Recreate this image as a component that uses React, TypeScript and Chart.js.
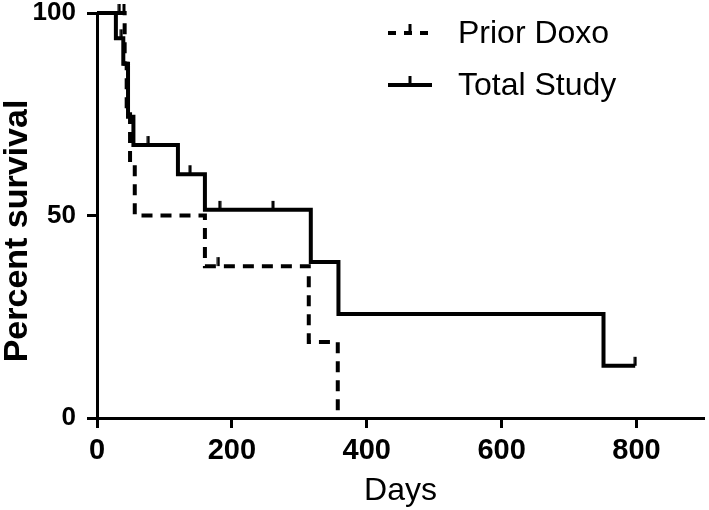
import React, { useEffect, useRef } from 'react';
import { Chart, registerables } from 'chart.js';

Chart.register(...registerables);

// Kaplan-Meier step data (day of event, survival after event)
const priorDays = [0, 41, 44, 49, 56, 160, 314, 357];
const priorSurvival = [100, 87.5, 75, 62.5, 50, 37.5, 18.75, 0];
const priorCensorDays = [33, 40, 180];
const priorCensorSurvival = [100, 100, 37.5];

const totalDays = [0, 28, 39, 46, 54, 120, 160, 317, 358, 751, 798];
const totalSurvival = [100, 93.75, 87.5, 74.4, 67.4, 60.2, 51.4, 38.5, 25.7, 12.9, 12.9];
const totalCensorDays = [36, 76, 138, 182, 261, 798];
const totalCensorSurvival = [93.75, 67.4, 60.2, 51.4, 51.4, 12.9];

const xTicks = [0, 200, 400, 600, 800];
const yTicks = [0, 50, 100];
const seriesNames = ['Prior Doxo', 'Total Study'];
const xTitle = 'Days';
const yTitle = 'Percent survival';

const FONT = "'Liberation Sans', Arial, Helvetica, sans-serif";
const DASH = [11, 8];

function makeTick(): HTMLCanvasElement {
  const c = document.createElement('canvas');
  c.width = 4;
  c.height = 20;
  const g = c.getContext('2d')!;
  g.fillStyle = '#000';
  g.fillRect(0.5, 1, 3, 9);
  return c;
}

const pts = (xs: number[], ys: number[]) => xs.map((x, i) => ({ x, y: ys[i] }));

export default function App() {
  const ref = useRef<HTMLCanvasElement | null>(null);

  useEffect(() => {
    if (!ref.current) return;
    const tick = makeTick();

    const overlay = {
      id: 'overlay',
      afterDraw(chart: any) {
        const ctx = chart.ctx;
        ctx.save();
        // y axis title
        ctx.fillStyle = '#000';
        ctx.font = `bold 34px ${FONT}`;
        ctx.textAlign = 'center';
        ctx.textBaseline = 'middle';
        ctx.translate(18, 231);
        ctx.rotate(-Math.PI / 2);
        ctx.fillText(yTitle, 0, 0);
        ctx.restore();

        // legend
        ctx.save();
        ctx.strokeStyle = '#000';
        ctx.lineWidth = 4;
        const lx0 = 388;
        const lx1 = 432;
        const rows = [33, 85];
        rows.forEach((y, i) => {
          ctx.setLineDash(i === 0 ? [8, 8] : []);
          ctx.beginPath();
          ctx.moveTo(lx0, y);
          ctx.lineTo(lx1, y);
          ctx.stroke();
          ctx.setLineDash([]);
          ctx.drawImage(tick, (lx0 + lx1) / 2 - 2, y - 10);
          ctx.fillStyle = '#000';
          ctx.font = `32px ${FONT}`;
          ctx.textAlign = 'left';
          ctx.textBaseline = 'middle';
          ctx.fillText(seriesNames[i], 458, y + 1);
        });
        ctx.restore();
      },
    };

    const chart = new Chart(ref.current, {
      type: 'scatter',
      data: {
        datasets: [
          {
            label: seriesNames[1],
            data: pts(totalDays, totalSurvival),
            showLine: true,
            stepped: 'before',
            borderColor: '#000',
            backgroundColor: '#000',
            borderWidth: 4,
            pointRadius: 0,
            fill: false,
            clip: false,
          },
          {
            label: seriesNames[0],
            data: pts(priorDays, priorSurvival),
            showLine: true,
            stepped: 'before',
            borderColor: '#000',
            backgroundColor: '#000',
            borderWidth: 4,
            borderDash: DASH,
            pointRadius: 0,
            fill: false,
            clip: false,
          },
          {
            label: seriesNames[1] + ' censored',
            data: pts(totalCensorDays, totalCensorSurvival),
            showLine: false,
            pointStyle: tick as any,
            pointRadius: 3,
            clip: false,
          },
          {
            label: seriesNames[0] + ' censored',
            data: pts(priorCensorDays, priorCensorSurvival),
            showLine: false,
            pointStyle: tick as any,
            pointRadius: 3,
            clip: false,
          },
        ],
      },
      options: {
        animation: false,
        responsive: false,
        devicePixelRatio: 1,
        layout: { padding: { left: 0, right: -3, top: 13, bottom: 0 } },
        plugins: {
          legend: { display: false },
          tooltip: { enabled: false },
        },
        scales: {
          x: {
            type: 'linear',
            min: 0,
            max: 900,
            afterBuildTicks: (s: any) => {
              s.ticks = xTicks.map((v) => ({ value: v }));
            },
            afterFit: (s: any) => {
              s.height = 92;
              s.paddingLeft = 0;
              s.paddingRight = 0;
            },
            ticks: {
              color: '#000',
              font: { family: FONT, size: 29, weight: 'bold' },
              padding: 6,
              maxRotation: 0,
              autoSkip: false,
            },
            grid: {
              display: true,
              drawOnChartArea: false,
              drawTicks: true,
              tickLength: 10,
              tickWidth: 3,
              tickColor: '#000',
            },
            border: { display: true, color: '#000', width: 3 },
            title: {
              display: true,
              text: xTitle,
              color: '#000',
              font: { family: FONT, size: 32 },
              padding: { top: 0, bottom: 0 },
            },
          },
          y: {
            type: 'linear',
            min: 0,
            max: 100,
            afterBuildTicks: (s: any) => {
              s.ticks = yTicks.map((v) => ({ value: v }));
            },
            afterFit: (s: any) => {
              s.width = 97;
              s.paddingTop = 0;
              s.paddingBottom = 0;
            },
            ticks: {
              color: '#000',
              font: { family: FONT, size: 26, weight: 'bold' },
              padding: 11,
              autoSkip: false,
            },
            grid: {
              display: true,
              drawOnChartArea: false,
              drawTicks: true,
              tickLength: 10,
              tickWidth: 3,
              tickColor: '#000',
            },
            border: { display: true, color: '#000', width: 3 },
          },
        },
      },
      plugins: [overlay],
    });

    return () => chart.destroy();
  }, []);

  return (
    <div style={{ position: 'absolute', left: 0, top: 0, width: 709, height: 510, background: '#fff' }}>
      <canvas ref={ref} width={709} height={510} style={{ width: 709, height: 510, display: 'block' }} />
    </div>
  );
}
